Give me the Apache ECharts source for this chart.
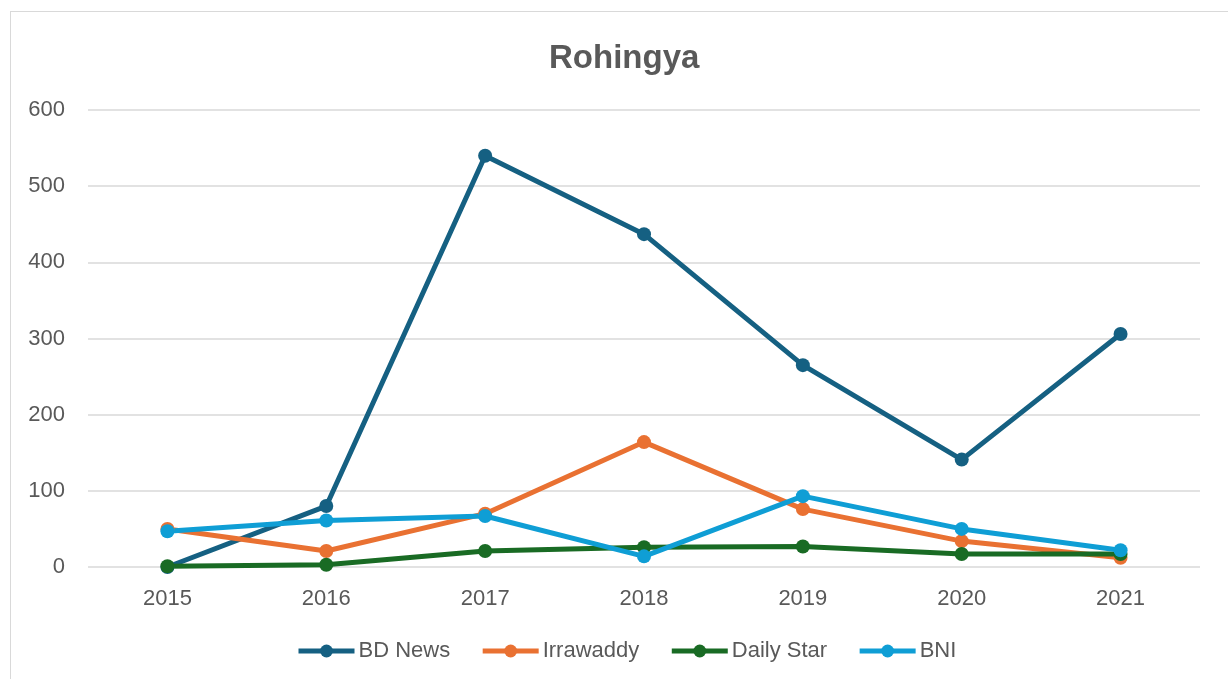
<!DOCTYPE html>
<html>
<head>
<meta charset="utf-8">
<script src="https://cdn.jsdelivr.net/npm/echarts@6/dist/echarts.min.js"></script>
<style>
  html, body { margin: 0; padding: 0; background: #fff; overflow: hidden; }
  #frame {
    position: absolute; left: 10px; top: 11px;
    width: 1300px; height: 700px;
    border: 1.5px solid #d9d9d9;
  }
  #rohingya-chart {
    position: absolute; left: 0; top: 0;
    width: 1228px; height: 679px;
  }
</style>
</head>
<body>
<div id="frame"></div>
<div id="rohingya-chart"></div>
<script>
  // years on the x axis
  const years = ['2015', '2016', '2017', '2018', '2019', '2020', '2021']

  // values
  const bdNews = [0, 80, 540, 437, 265, 141, 306]
  const irrawaddy = [50, 21, 70, 164, 76, 34, 12]
  const dailyStar = [1, 3, 21, 26, 27, 17, 17]
  const bni = [47, 61, 67, 14, 93, 50, 22]

  const textColor = '#595959'
  const font = 'Liberation Sans, Arial, sans-serif'

  function makeLine(name, data, color) {
    return {
      name: name,
      type: 'line',
      data: data,
      symbol: 'circle',
      symbolSize: 14,
      lineStyle: { width: 5, color: color },
      itemStyle: { color: color },
      emphasis: { disabled: true }
    }
  }

  const myChart = echarts.init(document.getElementById('rohingya-chart'))
  myChart.setOption({
    animation: false,
    title: {
      text: 'Rohingya',
      left: 544,
      top: 37,
      textStyle: {
        color: textColor,
        fontSize: 33,
        fontWeight: 'bold',
        fontFamily: font
      }
    },
    legend: {
      bottom: 12,
      left: 291,
      itemWidth: 56,
      itemHeight: 16,
      itemGap: 30,
      lineStyle: { width: 5 },
      textStyle: {
        color: textColor,
        fontSize: 22,
        padding: [0, 0, 0, -1],
        fontFamily: font
      },
      data: ['BD News', 'Irrawaddy', 'Daily Star', 'BNI']
    },
    grid: {
      left: 88,
      right: 28,
      top: 110,
      bottom: 112
    },
    xAxis: {
      type: 'category',
      data: years,
      boundaryGap: true,
      axisLine: { show: false },
      axisTick: { show: false },
      axisLabel: {
        color: textColor,
        fontSize: 22,
        margin: 21,
        fontFamily: font
      }
    },
    yAxis: {
      type: 'value',
      min: 0,
      max: 600,
      interval: 100,
      axisLine: { show: false },
      axisTick: { show: false },
      splitLine: { lineStyle: { color: '#d9d9d9', width: 1.5 } },
      axisLabel: {
        color: textColor,
        fontSize: 22,
        margin: 23,
        fontFamily: font
      }
    },
    series: [
      makeLine('BD News', bdNews, '#156082'),
      makeLine('Irrawaddy', irrawaddy, '#E97132'),
      makeLine('Daily Star', dailyStar, '#196B24'),
      makeLine('BNI', bni, '#0F9ED5')
    ]
  })
</script>
</body>
</html>
